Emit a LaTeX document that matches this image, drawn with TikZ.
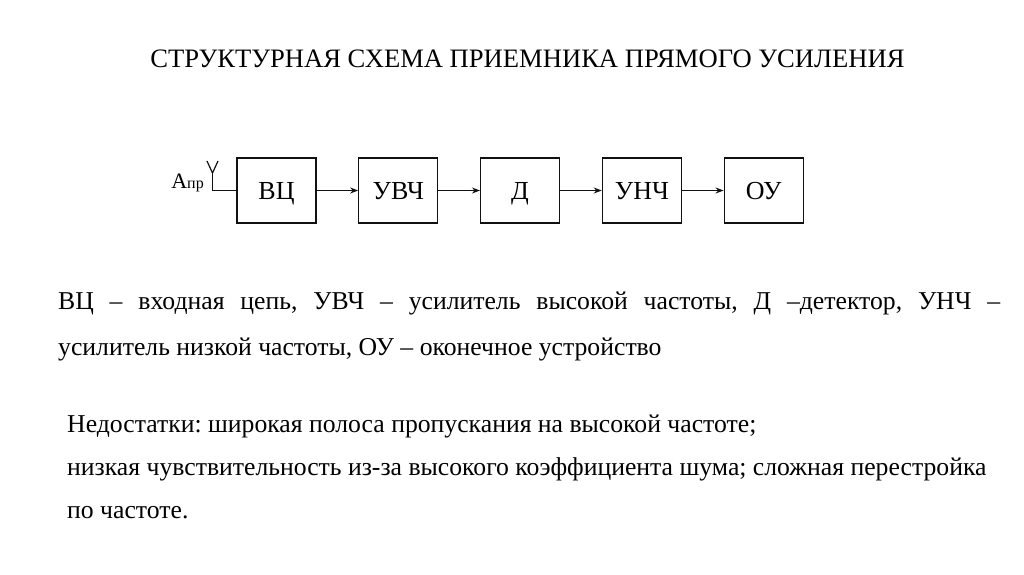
\documentclass[tikz,border=0pt]{standalone}
\usepackage{fontspec}
\setmainfont{Liberation Serif}
\usetikzlibrary{arrows.meta,positioning}
\definecolor{ink}{HTML}{111111}
\frenchspacing

\begin{document}
\begin{tikzpicture}[x=1pt, y=-1pt, node distance=41.5pt,
    block/.style={draw=ink, line width=1.3pt, minimum width=79pt, minimum height=65pt,
                  inner sep=0pt, text height=17pt, text depth=0pt,
                  font=\fontsize{26}{28}\selectfont},
    link/.style={draw=ink, line width=1.2pt, -{Stealth[length=8pt, width=6pt]}},
    body/.style={anchor=base west, inner sep=0pt, font=\fontsize{25.7}{28}\selectfont}]
  \useasboundingbox (0,0) rectangle (1024,574);
  \node[anchor=base, inner sep=0pt, font=\fontsize{26.6}{30}\selectfont] (title) at (527.5,67)
    {СТРУКТУРНАЯ СХЕМА ПРИЕМНИКА ПРЯМОГО УСИЛЕНИЯ};

  % chain of blocks
  \node[block] (b1) at (276.5,190.5) {ВЦ};
  \foreach \i/\t [count=\j from 1] in {2/УВЧ, 3/Д, 4/УНЧ, 5/ОУ}
    { \node[block, right=of b\j] (b\i) {\t};
      \draw[link] (b\j) -- (b\i); }

  % antenna input
  \coordinate (ant) at (212.5,173);
  \coordinate (feed) at (212.5,190.5);
  \draw[ink, line width=1.2pt] (207,161) -- (ant) -- (218,161);
  \draw[ink, line width=1.2pt] (ant) -- (feed) -- (b1.west);
  \node[anchor=base east, inner sep=0pt] (apr) at (204,188)
    {\fontsize{22}{24}\selectfont А\fontsize{16}{18}\selectfont пр};

  % legend
  \node[body] (leg1) at (58,309)
    {\makebox[942pt][s]{ВЦ – входная цепь, УВЧ – усилитель высокой частоты, Д –детектор, УНЧ –}};
  \node[body] (leg2) at (58,355) {усилитель низкой частоты, ОУ – оконечное устройство};

  % drawbacks
  \node[body] (dis1) at (67,432) {Недостатки: широкая полоса пропускания на высокой частоте;};
  \node[body] (dis2) at (67,475) {низкая чувствительность из-за высокого коэффициента шума; сложная перестройка};
  \node[body] (dis3) at (67,518) {по частоте.};
\end{tikzpicture}
\end{document}
